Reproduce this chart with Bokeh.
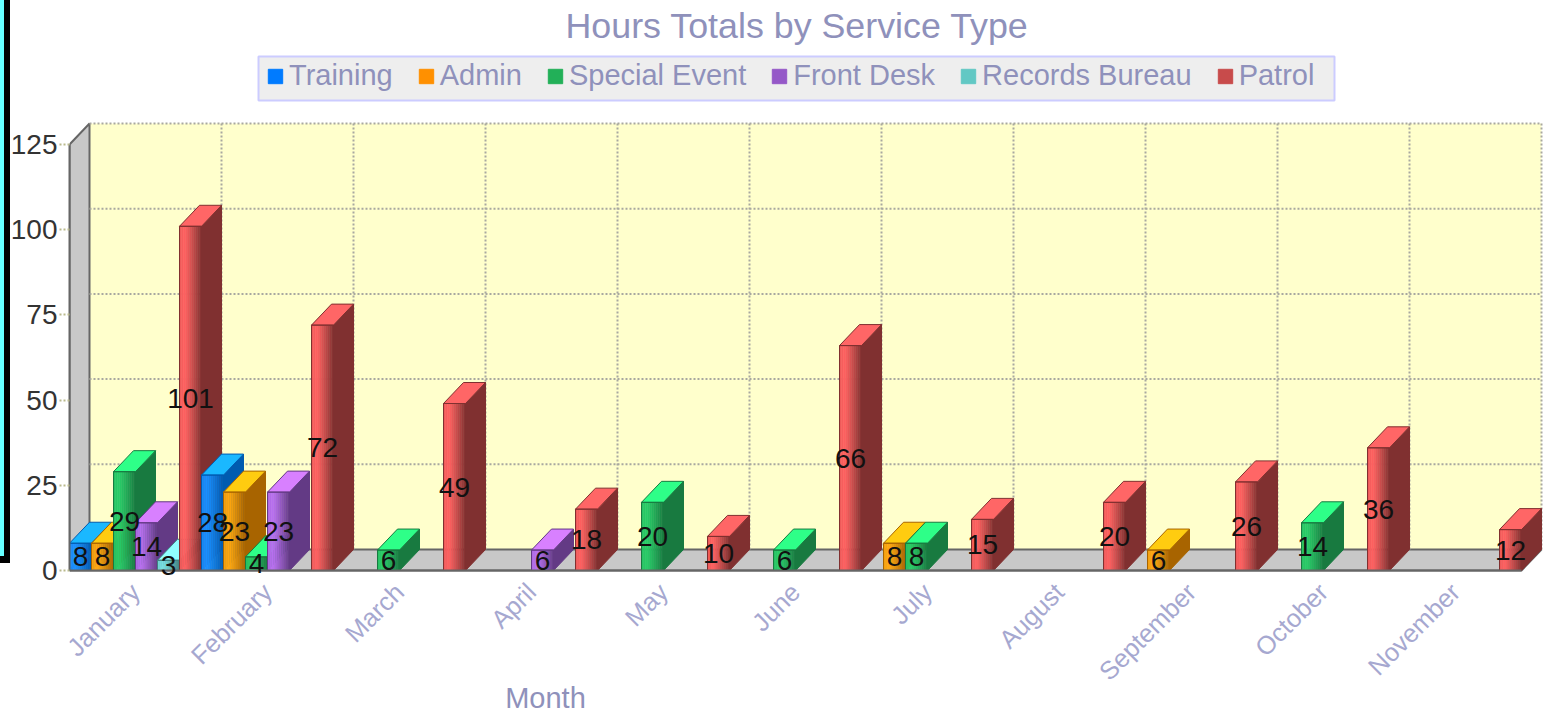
from bokeh.plotting import figure
from bokeh.embed import file_html
from bokeh.resources import INLINE
from bokeh.models import (Legend, LegendItem, Label, LabelSet, ColumnDataSource, BoxAnnotation, FixedTicker,
                          Range1d, Title, InlineStyleSheet)
from bokeh.core.properties import value

months = ["January", "February", "March", "April", "May", "June", "July",
          "August", "September", "October", "November"]
series_names = ["Training", "Admin", "Special Event", "Front Desk", "Records Bureau", "Patrol"]
training = [8, 28, 0, 0, 0, 0, 0, 0, 0, 0, 0]
admin = [8, 23, 0, 0, 0, 0, 8, 0, 6, 0, 0]
special_event = [29, 4, 6, 0, 20, 6, 8, 0, 0, 14, 0]
front_desk = [14, 23, 0, 6, 0, 0, 0, 0, 0, 0, 0]
records_bureau = [3, 0, 0, 0, 0, 0, 0, 0, 0, 0, 0]
patrol = [101, 72, 49, 18, 10, 66, 15, 20, 26, 36, 12]
y_ticks = [0, 25, 50, 75, 100, 125]

base_colors = ["#007bff", "#ff9000", "#22b058", "#9558c8", "#62c8c4", "#c84b4b"]
bright_colors = ["#1a90ff", "#ffa810", "#28cc68", "#b870f0", "#78e0e0", "#ff6060"]
top_colors = ["#1ab8ff", "#ffcc10", "#2eff88", "#d880ff", "#90ffff", "#ff6666"]
side_colors = ["#005bb0", "#a86400", "#187a40", "#633a85", "#408080", "#803030"]

FONT = "Liberation Sans"
PX_PER_SLOT = 22.0
PX_PER_UNIT = 3.408
DX = 20 / PX_PER_SLOT
DY = 21 / PX_PER_UNIT
N_SLOTS = len(months) * len(series_names)
LEFT, RIGHT, TOP, FLOOR, HEIGHT = 69, 1547, 48, 570, 714

band = InlineStyleSheet(css=""":host::before { content: ""; position: absolute; left: 0; top: 0; width: 4px;
  height: 556px; background: #66ffff; border-right: 6px solid #000; border-bottom: 7px solid #000; z-index: 20; }
:host::after { content: ""; position: absolute; left: 0; top: 556px; width: 4px; height: 7px; background: #000; z-index: 21; }""")

p = figure(width=1547, height=HEIGHT, output_backend="svg", toolbar_location=None,
           x_range=Range1d(0, (RIGHT - LEFT) / PX_PER_SLOT),
           y_range=Range1d(-(HEIGHT - FLOOR) / PX_PER_UNIT, (FLOOR - TOP) / PX_PER_UNIT),
           min_border_left=LEFT, min_border_right=0, min_border_top=TOP, min_border_bottom=0,
           background_fill_color="white", border_fill_color="white",
           outline_line_color=None, x_axis_type="linear", y_axis_type="linear",
           stylesheets=[band])
p.grid.visible = False


def hex2rgb(c):
    return tuple(int(c[i:i + 2], 16) for i in (1, 3, 5))


def mix(a, b, t):
    ra, rb = hex2rgb(a), hex2rgb(b)
    return "#%02x%02x%02x" % tuple(round(x + (y - x) * t) for x, y in zip(ra, rb))


# walls and back plane
ymax = y_ticks[-1]
p.quad(left=[DX], right=[N_SLOTS + DX], bottom=[DY], top=[ymax + DY],
       fill_color="#ffffcc", line_color=None)
p.patch([0, DX, DX, 0], [0, DY, ymax + DY, ymax], fill_color="#c8c8c8", line_color="#666666", line_width=2)
p.patch([0, DX, N_SLOTS + DX, N_SLOTS], [0, DY, DY, 0], fill_color="#c8c8c8", line_color="#666666", line_width=2)

# back grid
gx = [[i * len(series_names) + DX] * 2 for i in range(1, len(months) + 1)]
gy = [[DY, ymax + DY] for _ in gx]
hx = [[DX, N_SLOTS + DX] for _ in y_ticks[1:]]
hy = [[t + DY, t + DY] for t in y_ticks[1:]]
p.multi_line(gx + hx, gy + hy, line_color="#a8a8a0", line_width=2, line_dash="2 2")

# bars, painted left to right
xs, ys, fills, lines, widths, alphas = [], [], [], [], [], []
lab_x, lab_y, lab_t = [], [], []
N_STRIP = 11
all_series = [training, admin, special_event, front_desk, records_bureau, patrol]


def add(px, py, fill, line, w, alpha=1.0):
    xs.append(px); ys.append(py); fills.append(fill); lines.append(line); widths.append(w); alphas.append(alpha)


for m in range(len(months)):
    for s, vals in enumerate(all_series):
        v = vals[m]
        if not v:
            continue
        x0 = m * len(series_names) + s
        x1 = x0 + 1
        T, S, G = top_colors[s], side_colors[s], bright_colors[s]
        for k in range(N_STRIP):
            t = (k + 0.5) / N_STRIP
            c = mix(mix(G, S, 0.15), G, t / 0.25) if t < 0.25 else mix(G, S, ((t - 0.25) / 0.75) ** 1.1)
            a, b = x0 + k / N_STRIP, x0 + (k + 1) / N_STRIP
            add([a, b, b, a], [0, 0, v, v], c, c, 0.5)
        add([x1, x1 + DX, x1 + DX, x1], [0, DY, v + DY, v], S, S, 1)
        add([x0, x1, x1 + DX, x0 + DX], [v, v, v + DY, v + DY], T, S, 1)
        add([x0, x1, x1, x0], [0, 0, v, v], T, S, 1, 0.0)
        lab_x.append(x0 + 0.5)
        lab_y.append(v / 2)
        lab_t.append(str(v))

p.patches(xs, ys, fill_color=fills, fill_alpha=alphas, line_color=lines, line_width=widths)
p.add_layout(LabelSet(x="x", y="y", text="t", source=ColumnDataSource(dict(x=lab_x, y=lab_y, t=lab_t)),
                      text_color="#111111", text_font=value(FONT), text_font_size="28px",
                      text_align="center", text_baseline="middle"))

# legend box, then the legend itself
p.add_layout(BoxAnnotation(left=258, right=1334, top=56, bottom=100, left_units="canvas", right_units="canvas",
                           top_units="canvas", bottom_units="canvas", fill_color="#eeeeee", fill_alpha=1,
                           line_color="#ccccff", line_width=2, line_alpha=1))
items = []
for name, c in zip(series_names, base_colors):
    r = p.quad(left=[float("nan")], right=[float("nan")], bottom=[float("nan")], top=[float("nan")],
               fill_color=c, line_color=c)
    items.append(LegendItem(label=name, renderers=[r]))
legend = Legend(items=items, orientation="horizontal", location=(266 - LEFT, HEIGHT - 92),
                background_fill_alpha=0.0, border_line_color=None,
                label_text_font=FONT, label_text_font_size="29px", label_text_color="#8f91bb",
                glyph_width=18, glyph_height=18, label_standoff=5, spacing=24,
                padding=0, margin=0, label_height=28)
p.add_layout(legend, "center")

# axes
xa, ya = p.xaxis[0], p.yaxis[0]
xa.fixed_location = 0
xa.ticker = FixedTicker(ticks=[(i + 0.5) * len(series_names) for i in range(len(months))])
xa.major_label_overrides = {(i + 0.5) * len(series_names): m for i, m in enumerate(months)}
xa.major_label_orientation = 0.785398
xa.major_label_text_font = FONT
xa.major_label_text_font_size = "25.5px"
xa.major_label_text_color = "#a6a8d0"
xa.major_label_standoff = 11
xa.major_tick_line_color = None
xa.minor_tick_line_color = None
xa.axis_line_color = "#666666"
xa.axis_line_width = 2
xa.bounds = (0, N_SLOTS)

ya.ticker = FixedTicker(ticks=y_ticks)
ya.bounds = (0, ymax)
ya.major_label_text_font = FONT
ya.major_label_text_font_size = "28px"
ya.major_label_text_color = "#333333"
ya.major_label_standoff = 2
ya.major_tick_out = 10
ya.major_tick_in = 0
ya.major_tick_line_color = "#b9b98c"
ya.major_tick_line_width = 2
ya.major_tick_line_dash = "2 2"
ya.minor_tick_line_color = None
ya.axis_line_color = "#666666"
ya.axis_line_width = 2

p.add_layout(Label(x=(545 - LEFT) / PX_PER_SLOT, y=-(697 - FLOOR) / PX_PER_UNIT, text="Month",
                   text_font=FONT, text_font_size="29px", text_color="#8f91bb",
                   text_align="center", text_baseline="middle"))

p.title = Title(text="Hours Totals by Service Type", text_font=FONT, text_font_size="35.8px",
                text_color="#8f91bb", text_font_style="normal", align="left", offset=565 - LEFT, standoff=5)

open("out.html", "w").write(file_html(p, INLINE))
